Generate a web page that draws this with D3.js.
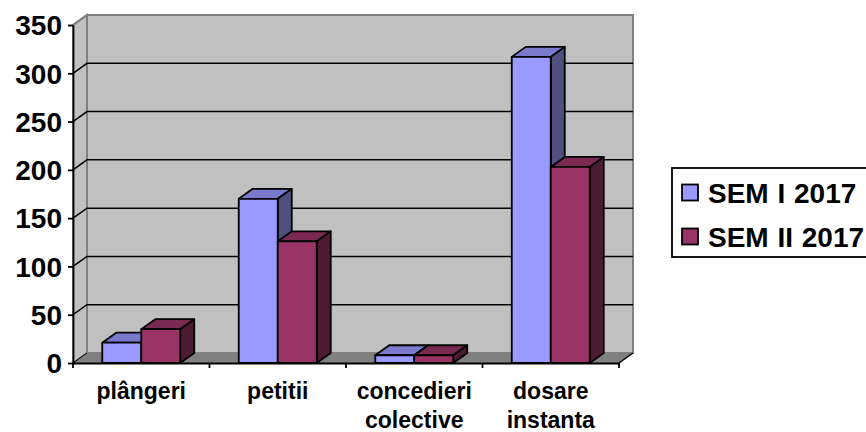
<!DOCTYPE html>
<html>
<head>
<meta charset="utf-8">
<script src="https://cdn.jsdelivr.net/npm/d3@7"></script>
<style>
  html, body { margin: 0; padding: 0; background: #fff; overflow: hidden; }
  text { font-family: "Liberation Sans", Arial, sans-serif; font-weight: bold; fill: #000; }
</style>
</head>
<body>
<div id="chart"></div>
<script>
// Chart data
const categories = ['plângeri', 'petitii', 'concedieri colective', 'dosare instanta'];
const seriesNames = ['SEM I 2017', 'SEM II 2017'];
const semI = [21, 170, 8, 317];
const semII = [35, 126, 8, 203];
const yTicks = [0, 50, 100, 150, 200, 250, 300, 350];

// Colours per series: front, top, side
const fronts = ['#9999ff', '#993366'];
const tops = ['#7a7acc', '#7a2952'];
const sides = ['#4f4f80', '#4d1a33'];

const width = 866;
const height = 432;
const depthX = 14;
const depthY = 10;

const svg = d3.select('#chart')
  .append('svg')
  .attr('width', width)
  .attr('height', height);

// Scales for the front plane of the box
const y = d3.scaleLinear().domain([0, 350]).range([363, 25]);
const x0 = d3.scaleBand().domain(categories).range([73, 619]);
const x1 = d3.scaleBand()
  .domain(d3.range(seriesNames.length))
  .range([0, 78]);
const groupOffset = (x0.bandwidth() - 78) / 2;

const left = x0.range()[0];
const right = x0.range()[1];
const poly = pts => pts.map(p => p.join(',')).join(' ');

// Back wall, side wall and floor
svg.append('polygon')
  .attr('points', poly([[left + depthX, y(350) - depthY], [right + depthX, y(350) - depthY],
    [right + depthX, y(0) - depthY], [left + depthX, y(0) - depthY]]))
  .attr('fill', '#c0c0c0').attr('stroke', '#808080').attr('stroke-width', 2);
svg.append('polygon')
  .attr('points', poly([[left, y(350)], [left + depthX, y(350) - depthY],
    [left + depthX, y(0) - depthY], [left, y(0)]]))
  .attr('fill', '#c0c0c0').attr('stroke', '#808080').attr('stroke-width', 2);
svg.append('polygon')
  .attr('points', poly([[left, y(0)], [left + depthX, y(0) - depthY],
    [right + depthX, y(0) - depthY], [right, y(0)]]))
  .attr('fill', '#808080').attr('stroke', '#808080').attr('stroke-width', 1);

// Gridlines on the back wall and their return on the side wall
const grid = yTicks.filter(t => t > 0 && t < 350);
svg.selectAll('.grid').data(grid).enter().append('polyline')
  .attr('class', 'grid')
  .attr('points', d => poly([[left, y(d)], [left + depthX, y(d) - depthY], [right + depthX, y(d) - depthY]]))
  .attr('fill', 'none').attr('stroke', '#000').attr('stroke-width', 1.5);
svg.append('line')
  .attr('x1', left).attr('y1', y(0)).attr('x2', left + depthX).attr('y2', y(0) - depthY)
  .attr('stroke', '#000').attr('stroke-width', 1);
svg.append('line')
  .attr('x1', right).attr('y1', y(0)).attr('x2', right + depthX).attr('y2', y(0) - depthY)
  .attr('stroke', '#000').attr('stroke-width', 1.5);
svg.append('line')
  .attr('x1', left).attr('y1', y(350)).attr('x2', left + depthX).attr('y2', y(350) - depthY)
  .attr('stroke', '#808080').attr('stroke-width', 2);

// 3D bars
const rows = categories.map((c, i) => ({ c, values: [semI[i], semII[i]] }));
const bars = svg.selectAll('.group').data(rows).enter().append('g').attr('class', 'group');
rows.forEach((row, r) => {
  const g = d3.select(bars.nodes()[r]);
  row.values.forEach((v, s) => {
    const xa = x0(row.c) + groupOffset + x1(s);
    const xb = xa + x1.bandwidth();
    const bar = g.append('g')
      .attr('stroke', '#000').attr('stroke-width', 1.8).attr('stroke-linejoin', 'round');
    bar.append('polygon')
      .attr('points', poly([[xa, y(v)], [xa + depthX, y(v) - depthY], [xb + depthX, y(v) - depthY], [xb, y(v)]]))
      .attr('fill', tops[s]);
    bar.append('polygon')
      .attr('points', poly([[xb, y(v)], [xb + depthX, y(v) - depthY], [xb + depthX, y(0) - depthY], [xb, y(0)]]))
      .attr('fill', sides[s]);
    bar.append('rect')
      .attr('x', xa).attr('y', y(v))
      .attr('width', xb - xa).attr('height', y(0) - y(v))
      .attr('fill', fronts[s]);
  });
});

// Y axis
const yAxis = svg.append('g')
  .attr('transform', `translate(${left},0)`)
  .call(d3.axisLeft(y).tickValues(yTicks).tickSize(5).tickSizeOuter(0).tickPadding(6));
yAxis.selectAll('text').style('font-size', '28px').attr('dy', '0.35em');
yAxis.selectAll('line, path').attr('stroke', '#000').attr('stroke-width', 1.8);

// X axis, ticks sit on the band edges
const xAxis = svg.append('g')
  .attr('transform', `translate(0,${y(0)})`)
  .call(d3.axisBottom(x0).tickSize(0).tickPadding(0));
xAxis.select('path').attr('stroke', '#000').attr('stroke-width', 1.8);
xAxis.selectAll('.tick text').each(function (d) {
  const t = d3.select(this).text('').attr('y', 0).attr('dy', null).style('font-size', '23px');
  d.split(' ').forEach((w, i) => {
    t.append('tspan').attr('x', 0).attr('y', 36 + i * 29).text(w);
  });
});
xAxis.selectAll('.edge')
  .data(categories.map(c => x0(c)).concat(right))
  .enter().append('line')
  .attr('class', 'edge')
  .attr('x1', d => d).attr('x2', d => d)
  .attr('y1', 0).attr('y2', 5)
  .attr('stroke', '#000').attr('stroke-width', 1.8);

// Legend
const legend = svg.append('g');
legend.append('rect')
  .attr('x', 672).attr('y', 168).attr('width', 200).attr('height', 89)
  .attr('fill', '#fff').attr('stroke', '#000').attr('stroke-width', 1.8);
const legendY = d3.scalePoint().domain(seriesNames).range([192.5, 236.5]);
seriesNames.forEach((name, i) => {
  legend.append('rect')
    .attr('x', 682).attr('y', legendY(name) - 8)
    .attr('width', 16).attr('height', 16)
    .attr('fill', fronts[i]).attr('stroke', '#000').attr('stroke-width', 1.8);
  legend.append('text')
    .attr('x', 708).attr('y', legendY(name))
    .attr('dy', '0.36em')
    .style('font-size', '28px')
    .style('word-spacing', '1px')
    .text(name);
});
</script>
</body>
</html>
